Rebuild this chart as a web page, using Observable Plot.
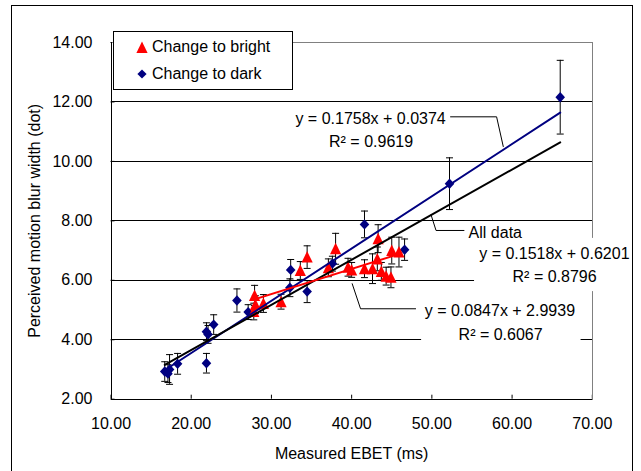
<!DOCTYPE html>
<html>
<head>
<meta charset="utf-8">
<script src="https://cdn.jsdelivr.net/npm/d3@7"></script>
<script src="https://cdn.jsdelivr.net/npm/@observablehq/plot@0.6"></script>
<style>
  body { margin: 0; background: #fff; font-family: "Liberation Sans", Arial, sans-serif; }
  #wrap { position: relative; width: 641px; height: 471px; overflow: hidden; background: #fff; }
  #chart { position: absolute; left: 0; top: 0; }
  #border { position: absolute; left: 11px; top: 5px; width: 620px; height: 520px; border: 1px solid #000; pointer-events: none; }
  #legend { position: absolute; left: 113px; top: 31px; width: 178px; height: 57px; border: 1px solid #000; background: #fff; font-size: 16px; color: #000; }
  .item { position: absolute; left: 0; height: 20px; line-height: 20px; white-space: nowrap; }
  .item svg { position: absolute; left: 22px; top: 4px; }
  .item span { position: absolute; left: 38px; top: 0; }
</style>
</head>
<body>
<div id="wrap">
  <div id="chart"></div>
  <div id="border"></div>
  <div id="legend"></div>
</div>
<script>
// ---- Data ----
const seriesNames = ["Change to bright", "Change to dark"];

// Change to dark (navy diamonds)
const darkX   = [16.7, 17.1, 17.3, 18.3, 21.9, 21.9, 22.1, 22.8, 25.7, 27.1, 32.4, 32.3, 34.45, 37.6, 41.6, 46.6, 52.2, 66.0];
const darkY   = [2.93, 2.86, 3.00, 3.19, 3.21, 4.27, 4.18, 4.51, 5.32, 4.93, 6.35, 5.75, 5.62, 6.56, 7.88, 7.03, 9.25, 12.16];
const darkErr = [0.33, 0.30, 0.50, 0.35, 0.33, 0.30, 0.30, 0.33, 0.39, 0.25, 0.35, 0.30, 0.37, 0.25, 0.45, 0.36, 0.87, 1.24];

// Change to bright (red triangles)
const brightX   = [27.9, 28.0, 27.8, 29.0, 31.2, 33.6, 34.45, 37.1, 38.0, 39.55, 40.0, 41.6, 42.6, 43.3, 43.2, 43.7, 44.3, 44.9, 45.0, 45.9];
const brightY   = [5.49, 5.18, 4.95, 5.22, 5.28, 6.33, 6.78, 6.42, 7.06, 6.44, 6.35, 6.39, 6.39, 7.40, 6.72, 6.30, 6.14, 6.10, 7.00, 6.95];
const brightErr = [0.34, 0.30, 0.28, 0.30, 0.25, 0.30, 0.38, 0.30, 0.52, 0.30, 0.25, 0.30, 0.50, 0.47, 0.40, 0.30, 0.30, 0.35, 0.45, 0.50];

// Linear trendlines (slope, intercept) as printed on the chart
const trendDark   = {slope: 0.1758, intercept: 0.0374, r2: 0.9619};
const trendBright = {slope: 0.0847, intercept: 2.9939, r2: 0.6067};
const trendAll    = {slope: 0.1518, intercept: 0.6201, r2: 0.8796};

// Axis ticks
const xTicks = [10, 20, 30, 40, 50, 60, 70];
const yTicks = [2, 4, 6, 8, 10, 12, 14];
const gridY  = [4, 6, 8, 10, 12];

const xLabel = "Measured EBET (ms)";
const yLabel = "Perceived motion blur width (dot)";

// Annotation texts
const eqText = (t) => `y = ${t.slope.toFixed(4)}x + ${t.intercept.toFixed(4)}`;
const r2Text = (t) => `R² = ${t.r2.toFixed(4)}`;

// ---- Layout of annotations (in data units) ----
const annoCentered = [
  {text: eqText(trendDark),   x: 42.36, y: 11.44},
  {text: r2Text(trendDark),   x: 42.42, y: 10.65},
  {text: eqText(trendAll),    x: 65.27, y: 6.89},
  {text: r2Text(trendAll),    x: 65.30, y: 6.11},
  {text: eqText(trendBright), x: 58.48, y: 4.985},
  {text: r2Text(trendBright), x: 58.57, y: 4.17}
];
const annoStart = [
  {text: "All data", x: 54.58, y: 7.60}
];
const leaders = [
  {id: "dark", x: 52.33, y: 11.50}, {id: "dark", x: 58.07, y: 11.50}, {id: "dark", x: 58.90, y: 10.50},
  {id: "all", x: 54.00, y: 7.676}, {id: "all", x: 50.52, y: 7.676}, {id: "all", x: 49.90, y: 8.20},
  {id: "bright", x: 40.07, y: 5.883}, {id: "bright", x: 41.11, y: 5.042}, {id: "bright", x: 47.97, y: 5.042}
];
const labelBoxes = [
  {x1: 55.32, x2: 75.5, y1: 5.62, y2: 7.41},
  {x1: 48.72, x2: 68.6, y1: 3.80, y2: 5.38}
];

// ---- Build tables ----
const dark = darkX.map((x, i) => ({x, y: darkY[i], e: darkErr[i]}));
const bright = brightX.map((x, i) => ({x, y: brightY[i], e: brightErr[i]}));
const all = dark.concat(bright);

function trendPoints(t, pts, id) {
  const [lo, hi] = d3.extent(pts, d => d.x);
  return [lo, hi].map(x => ({id, x, y: t.slope * x + t.intercept}));
}
const trends = [
  ...trendPoints(trendDark, dark, "dark"),
  ...trendPoints(trendAll, all, "all"),
  ...trendPoints(trendBright, bright, "bright")
];

const NAVY = "#000080", RED = "#ff0000";

const diamondSym = {draw(c) { c.moveTo(0, -5.2); c.lineTo(4.8, 0); c.lineTo(0, 5.2); c.lineTo(-4.8, 0); c.closePath(); }};
const triangleSym = {draw(c) { c.moveTo(0, -6); c.lineTo(5.6, 5.5); c.lineTo(-5.6, 5.5); c.closePath(); }};
const capSym = {draw(c) { c.moveTo(-3.5, 0); c.lineTo(3.5, 0); }};

const plot = Plot.plot({
  width: 641,
  height: 471,
  marginLeft: 110.5,
  marginRight: 49.2,
  marginTop: 42,
  marginBottom: 72.3,
  style: {fontFamily: "'Liberation Sans', Arial, sans-serif", fontSize: "16px", color: "#000", background: "transparent"},
  x: {
    domain: [10, 70], ticks: xTicks, tickFormat: d3.format(".2f"),
    tickSize: -4, tickPadding: 22.6,
    label: xLabel, labelAnchor: "center", labelArrow: "none", labelOffset: 60
  },
  y: {
    domain: [2, 14], ticks: yTicks, tickFormat: d3.format(".2f"),
    tickSize: -4, tickPadding: 22.5,
    label: yLabel, labelAnchor: "center", labelArrow: "none", labelOffset: 82
  },
  marks: [
    Plot.ruleY(gridY, {stroke: "#000", strokeWidth: 1, shapeRendering: "crispEdges"}),
    Plot.frame({stroke: "#808080", shapeRendering: "crispEdges"}),
    Plot.ruleX([10], {stroke: "#000", shapeRendering: "crispEdges"}),
    Plot.ruleY([2], {stroke: "#000", shapeRendering: "crispEdges"}),
    Plot.rect(labelBoxes, {x1: "x1", x2: "x2", y1: "y1", y2: "y2", fill: "#fff"}),
    // error bars
    Plot.ruleX(all, {x: "x", y1: d => d.y - d.e, y2: d => d.y + d.e, stroke: "#000", strokeWidth: 1}),
    Plot.dot(all, {x: "x", y: d => d.y + d.e, symbol: capSym, stroke: "#000", fill: "none", strokeWidth: 1}),
    Plot.dot(all, {x: "x", y: d => d.y - d.e, symbol: capSym, stroke: "#000", fill: "none", strokeWidth: 1}),
    // markers
    Plot.dot(dark, {x: "x", y: "y", symbol: diamondSym, fill: NAVY, stroke: "none"}),
    Plot.dot(bright, {x: "x", y: "y", symbol: triangleSym, fill: RED, stroke: "none"}),
    // trendlines
    Plot.line(trends, {x: "x", y: "y", z: "id",
      stroke: d => d.id === "dark" ? NAVY : d.id === "bright" ? RED : "#000", strokeWidth: 2}),
    // leader lines
    Plot.line(leaders, {x: "x", y: "y", z: "id", stroke: "#000", strokeWidth: 1}),
    Plot.text(annoCentered, {x: "x", y: "y", text: "text", textAnchor: "middle", fontSize: 16, fill: "#000"}),
    Plot.text(annoStart, {x: "x", y: "y", text: "text", textAnchor: "start", fontSize: 16, fill: "#000"})
  ]
});
document.getElementById("chart").appendChild(plot);

// Legend
const legend = document.getElementById("legend");
const legendItems = [
  {name: seriesNames[0], color: RED, shape: "triangle"},
  {name: seriesNames[1], color: NAVY, shape: "diamond"}
];
legendItems.forEach((it, i) => {
  const div = document.createElement("div");
  div.className = "item";
  div.style.top = (5 + i * 27.3) + "px";
  const path = it.shape === "triangle" ? "M6,0.5L11.6,12L0.4,12Z" : "M6,1.4L10.6,6L6,10.6L1.4,6Z";
  div.innerHTML = `<svg width="12" height="12" viewBox="0 0 12 12"><path d="${path}" fill="${it.color}"/></svg><span>${it.name}</span>`;
  legend.appendChild(div);
});
</script>
</body>
</html>
